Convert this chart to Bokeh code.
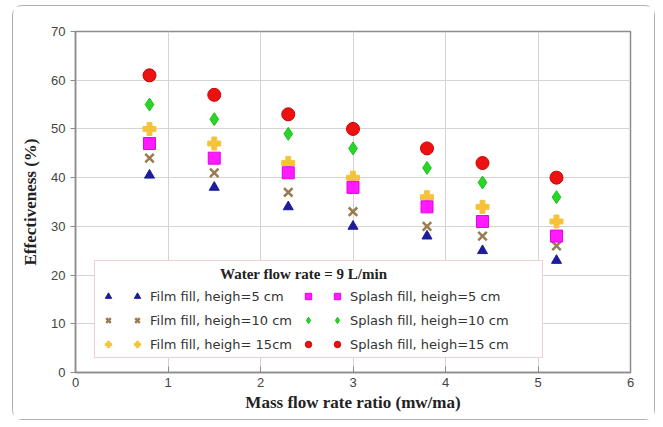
from bokeh.plotting import figure
from bokeh.models import Legend, LegendItem, Range1d, FixedTicker
from bokeh.embed import file_html
from bokeh.resources import INLINE

# Mass flow rate ratio (water / air)
ratio = [0.8, 1.5, 2.3, 3.0, 3.8, 4.4, 5.2]

# Effectiveness (%) for each fill type and height
film_5 = [40.5, 38, 34, 30, 28, 25, 23]
film_10 = [44, 41, 37, 33, 30, 28, 26]
film_15 = [50, 47, 43, 40, 36, 34, 31]
splash_5 = [47, 44, 41, 38, 34, 31, 28]
splash_10 = [55, 52, 49, 46, 42, 39, 36]
splash_15 = [61, 57, 53, 50, 46, 43, 40]

labels = [
    "Film fill, heigh=5 cm",
    "Film fill, heigh=10 cm",
    "Film fill, heigh= 15cm",
    "Splash fill, heigh=5 cm",
    "Splash fill, heigh=10 cm",
    "Splash fill, heigh=15 cm",
]

x_ticks = [0, 1, 2, 3, 4, 5, 6]
y_ticks = [0, 10, 20, 30, 40, 50, 60, 70]

p = figure(
    width=643, height=415,
    x_range=Range1d(0, 6), y_range=Range1d(0, 70),
    output_backend="svg", toolbar_location=None,
    min_border_left=62, min_border_right=26,
    min_border_top=25, min_border_bottom=49,
)
p.margin = (5, 8, 7, 12)
p.styles = {"border": "1px solid #b0b0b0", "border-radius": "10px"}

p.outline_line_color = "#8c8c8c"
p.outline_line_width = 1.5
p.xgrid.grid_line_color = "#d4d4d4"
p.ygrid.grid_line_color = "#d4d4d4"

for ax in (p.xaxis[0], p.yaxis[0]):
    ax.axis_line_color = "#8c8c8c"
    ax.axis_line_width = 1.5
    ax.major_tick_line_color = "#8c8c8c"
    ax.minor_tick_line_color = None
    ax.major_label_text_color = "#444444"
    ax.major_label_text_font = "Liberation Sans"
    ax.major_label_text_font_size = "13px"
    ax.axis_label_text_font = "Liberation Serif"
    ax.axis_label_text_font_style = "bold"
    ax.axis_label_text_font_size = "17px"
    ax.axis_label_text_color = "#222222"

p.xaxis.ticker = FixedTicker(ticks=x_ticks)
p.yaxis.ticker = FixedTicker(ticks=y_ticks)
p.xaxis.major_tick_in = 6
p.xaxis.major_tick_out = 0
p.yaxis.major_tick_in = 0
p.yaxis.major_tick_out = 5
p.xaxis.axis_label = "Mass flow rate ratio (mw/ma)"
p.yaxis.axis_label = "Effectiveness (%)"
p.xaxis.axis_label_standoff = 3
p.yaxis.axis_label_standoff = 8

styles = [
    (film_5, "triangle", "#1c1c9c", "#1c1c9c", 10, 1),
    (film_10, "x", "#9a7b4f", "#9a7b4f", 12, 2.5),
    (film_15, "plus", "#f5c33b", "#f5c33b", 13, 1),
    (splash_5, "square", "#ff1aff", "#e600e6", 12, 1),
    (splash_10, "diamond", "#27d627", "#1fbf1f", 13, 1),
    (splash_15, "circle", "#ee1111", "#cc0000", 13, 1),
]

renderers = []
for ys, marker, fill, line, size, lw in styles:
    r = p.scatter(ratio, ys, marker=marker, size=size, fill_color=fill,
                  line_color=line, line_width=lw)
    renderers.append(r)

# Each legend row shows the marker on its own and then with its label
items = []
for col in range(2):
    group = renderers[col * 3:(col + 1) * 3]
    names = labels[col * 3:(col + 1) * 3]
    for r in group:
        items.append(LegendItem(label=" ", renderers=[r]))
    for r, name in zip(group, names):
        items.append(LegendItem(label=name, renderers=[r]))

# non-breaking spaces centre the title over the two legend columns
legend = Legend(
    items=items, ncols=4, location=(19, 14),
    title="\u00a0" * 32 + "Water flow rate = 9 L/min" + "\u00a0" * 40,
    title_text_font="Liberation Serif", title_text_font_style="bold",
    title_text_font_size="15px", title_text_color="#222222",
    title_standoff=5,
    label_text_font="DejaVu Sans", label_text_font_size="13px",
    label_text_color="#333333", label_width=0,
    glyph_width=16, glyph_height=16, spacing=8,
    label_standoff=5, padding=5, margin=0,
    border_line_color="#e0a3a3", border_line_width=1.5,
    background_fill_color="white", background_fill_alpha=1,
)
p.add_layout(legend, "center")

open("out.html", "w").write(file_html(p, INLINE))
